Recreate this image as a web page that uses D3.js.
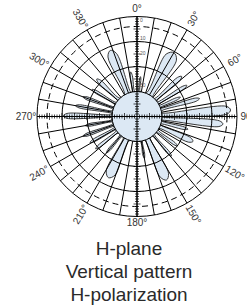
<!DOCTYPE html>
<html>
<head>
<meta charset="utf-8">
<script src="https://cdn.jsdelivr.net/npm/d3@7"></script>
<style>
  body { margin: 0; background: #fff; }
  svg { display: block; font-family: "Liberation Sans", Arial, sans-serif; }
</style>
</head>
<body>
<div id="chart"></div>
<script>
var width = 247;
var height = 307;
var cx = 137, cy = 116.5, R = 100;

// data
var angleLabels = [0, 30, 60, 90, 120, 150, 180, 210, 240, 270, 300, 330];
var ringDb = [-30, -20, -10, 0];
var dashedRingDb = [-4];
var scaleLabels = ["0", "10", "20", "30"];
var scaleLabelDb = [-1.5, -8.5, -14.5, -27.5];
var titleLines = ["H-plane", "Vertical pattern", "H-polarization"];

// pattern (degrees clockwise from top, dB)
var patternDeg = [0,
  2.5, 4, 5, 6, 7.5,
  21, 25, 30, 35, 39,
  44, 46, 48, 50, 52,
  54.5, 56.5, 58, 59.5, 61.5,
  63, 64.5, 66, 67.5, 69,
  70.5, 72.5, 74, 75.5, 77.5,
  81.5, 83.5, 86, 88.5, 90.5,
  91, 93, 95, 97, 99,
  100.5, 102.5, 104, 105.5, 107.5,
  109.5, 111.5, 114, 116.5, 118.5,
  122.5, 124.5, 126, 127.5, 129.5,
  135.5, 137.5, 139, 140.5, 142.5,
  148, 151, 155, 159, 162,
  167, 168.5, 170, 171.5, 173,
  197, 200.5, 205, 209.5, 213,
  216.5, 218.5, 220, 221.5, 223.5,
  228.5, 230.5, 232, 233.5, 235.5,
  237.5, 239.5, 241, 242.5, 244.5,
  246.5, 248.5, 250, 251.5, 253.5,
  257, 258.5, 260, 261.5, 263,
  266.5, 268.5, 270.5, 272.5, 274.5,
  276.5, 278.5, 280, 281.5, 283.5,
  286.5, 288.5, 290, 291.5, 293.5,
  297.5, 299.5, 301, 302.5, 304.5,
  309, 311, 313, 315, 317,
  330, 334, 338, 342, 346,
  349, 350.5, 352, 353.5, 355];
var patternDb = [-30,
  -30, -25, -24, -25, -30,
  -30, -12.5, -10.5, -12.5, -30,
  -30, -17.5, -16, -17.5, -30,
  -30, -18, -16.5, -18, -30,
  -30, -22.5, -21, -22.5, -30,
  -30, -15.5, -14, -15.5, -30,
  -30, -4, -2.5, -4, -30,
  -30, -7, -5.5, -7, -30,
  -30, -20.5, -19, -20.5, -30,
  -30, -17, -15.5, -17, -30,
  -30, -21.5, -20, -21.5, -30,
  -30, -20.5, -19, -20.5, -30,
  -30, -14, -12, -14, -30,
  -30, -24.5, -23, -24.5, -30,
  -30, -15, -13, -15, -30,
  -30, -22.5, -21, -22.5, -30,
  -30, -20.5, -19, -20.5, -30,
  -30, -20, -18.5, -20, -30,
  -30, -18.5, -17, -18.5, -30,
  -30, -20.5, -19, -20.5, -30,
  -30, -12, -10.5, -12, -30,
  -30, -16.5, -15, -16.5, -30,
  -30, -18.5, -17, -18.5, -30,
  -30, -20.5, -19, -20.5, -30,
  -30, -19.5, -18, -19.5, -30,
  -30, -13.5, -11.5, -13.5, -30,
  -30, -23.5, -22, -23.5, -30];

var rScale = d3.scaleLinear().domain([-40, 0]).range([0, R]);
var toRad = function(d) { return d * Math.PI / 180; };

var svg = d3.select("#chart")
    .append("svg")
      .attr("width", width)
      .attr("height", height);

var g = svg.append("g")
    .attr("transform", "translate(" + cx + "," + cy + ")");

// pattern
var pts = patternDeg.map(function(a, i) { return [a, patternDb[i]]; });
var radial = d3.lineRadial()
    .angle(function(d) { return toRad(d[0]); })
    .radius(function(d) { return rScale(d[1]); })
    .curve(d3.curveCatmullRomClosed.alpha(0.5));

g.append("path")
    .attr("d", radial(pts))
    .attr("fill", "#dce8f4")
    .attr("stroke", "#222")
    .attr("stroke-width", 0.9);

g.append("circle")
    .attr("r", rScale(-30))
    .attr("fill", "#dce8f4");

// radial lines every 10 degrees
g.selectAll(".spoke")
    .data(d3.range(0, 360, 10))
  .enter().append("line")
    .attr("class", "spoke")
    .attr("x1", function(d) { return rScale(-30) * Math.sin(toRad(d)); })
    .attr("y1", function(d) { return -rScale(-30) * Math.cos(toRad(d)); })
    .attr("x2", function(d) { return R * Math.sin(toRad(d)); })
    .attr("y2", function(d) { return -R * Math.cos(toRad(d)); })
    .attr("stroke", "#000")
    .attr("stroke-width", 1);

// rings
g.selectAll(".ring")
    .data(ringDb)
  .enter().append("circle")
    .attr("class", "ring")
    .attr("r", function(d) { return rScale(d); })
    .attr("fill", "none")
    .attr("stroke", "#000")
    .attr("stroke-width", 1);

g.selectAll(".dring")
    .data(dashedRingDb)
  .enter().append("circle")
    .attr("class", "dring")
    .attr("r", function(d) { return rScale(d); })
    .attr("fill", "none")
    .attr("stroke", "#000")
    .attr("stroke-width", 1)
    .attr("stroke-dasharray", "6,4");

// axes with dB ticks
var tickDb = d3.range(-39, 0, 1);
[0, 90, 180, 270].forEach(function(a) {
  var ax = g.append("g").attr("transform", "rotate(" + a + ")");
  ax.append("line")
      .attr("x1", 0).attr("y1", 0)
      .attr("x2", 0).attr("y2", -R)
      .attr("stroke", "#000")
      .attr("stroke-width", 1.1);
  ax.selectAll("line.tk")
      .data(tickDb)
    .enter().append("line")
      .attr("class", "tk")
      .attr("x1", function(d) { return d % 5 === 0 ? -3.5 : -2; })
      .attr("x2", function(d) { return d % 5 === 0 ? 3.5 : 2; })
      .attr("y1", function(d) { return -rScale(d); })
      .attr("y2", function(d) { return -rScale(d); })
      .attr("stroke", "#000")
      .attr("stroke-width", 0.7);
});

g.selectAll(".slab")
    .data(scaleLabels)
  .enter().append("text")
    .attr("class", "slab")
    .attr("x", 3)
    .attr("y", function(d, i) { return -rScale(scaleLabelDb[i]); })
    .attr("dy", "0.35em")
    .attr("font-size", 5)
    .attr("fill", "#555")
    .text(function(d) { return d; });

// angle labels
g.selectAll(".alab")
    .data(angleLabels)
  .enter().append("text")
    .attr("class", "alab")
    .attr("transform", function(d) {
      var rr = d === 0 ? 108 : d === 180 ? 106 : d % 90 === 0 ? 111 : 113;
      var x = rr * Math.sin(toRad(d)), y = -rr * Math.cos(toRad(d));
      var rot = d % 90 === 0 ? 0 : (d < 180 ? d - 90 : d - 270);
      return "translate(" + x + "," + y + ") rotate(" + rot + ")";
    })
    .attr("text-anchor", "middle")
    .attr("dy", "0.35em")
    .attr("font-size", 10)
    .attr("fill", "#333")
    .text(function(d) { return d + "°"; });

// title
svg.selectAll(".title")
    .data(titleLines)
  .enter().append("text")
    .attr("class", "title")
    .attr("x", 129)
    .attr("y", function(d, i) { return 255 + i * 23; })
    .attr("text-anchor", "middle")
    .attr("font-size", 19)
    .attr("fill", "#2a2a2a")
    .text(function(d) { return d; });
</script>
</body>
</html>
